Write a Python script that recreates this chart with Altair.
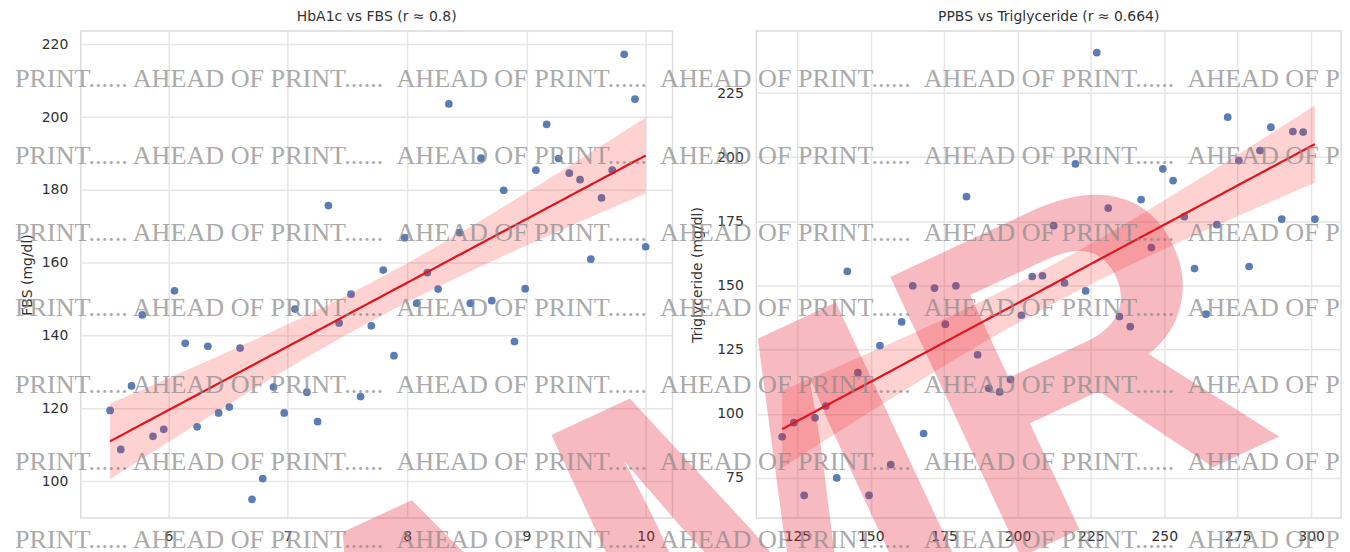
import altair as alt
import numpy as np
import pandas as pd

# ---- data ----
hba1c = [5.51, 5.60, 5.69, 5.78, 5.87, 5.96, 6.05, 6.14, 6.24, 6.33,
         6.42, 6.51, 6.60, 6.70, 6.79, 6.88, 6.97, 7.06, 7.16, 7.25,
         7.34, 7.43, 7.53, 7.61, 7.70, 7.80, 7.89, 7.98, 8.08, 8.17,
         8.26, 8.35, 8.44, 8.53, 8.62, 8.71, 8.81, 8.90, 8.99, 9.08,
         9.17, 9.27, 9.36, 9.45, 9.54, 9.63, 9.72, 9.82, 9.91, 10.00]
fbs = [119.5, 108.8, 126.2, 145.7, 112.4, 114.3, 152.3, 137.9, 115.0, 137.1,
       118.8, 120.4, 136.6, 95.1, 100.8, 125.9, 118.8, 147.3, 124.5, 116.4,
       175.7, 143.5, 151.4, 123.3, 142.7, 158.0, 134.5, 166.9, 148.9, 157.3,
       152.8, 203.6, 168.3, 148.9, 188.7, 149.6, 179.9, 138.4, 152.9, 185.4,
       198.0, 188.6, 184.6, 182.8, 161.0, 177.8, 185.4, 217.2, 204.9, 164.4]

ppbs = [119.8, 123.8, 127.3, 131.0, 134.7, 138.4, 142.0, 145.6, 149.4, 153.1,
        156.8, 160.5, 164.3, 168.0, 171.7, 175.4, 179.0, 182.6, 186.4, 190.2,
        193.9, 197.6, 201.3, 205.0, 208.5, 212.3, 216.0, 219.7, 223.2, 227.0,
        230.9, 234.7, 238.4, 242.1, 245.6, 249.5, 253.0, 256.8, 260.3, 264.2,
        267.9, 271.6, 275.4, 278.9, 282.6, 286.3, 290.0, 293.8, 297.3, 301.3]
trig = [91.0, 96.5, 68.2, 98.4, 103.0, 75.0, 155.5, 116.0, 68.2, 126.6,
        80.2, 135.8, 149.9, 92.3, 149.0, 134.9, 149.9, 184.6, 123.0, 109.9,
        108.5, 113.4, 138.4, 153.5, 153.8, 173.3, 151.0, 197.4, 147.9, 240.8,
        180.2, 137.9, 134.0, 183.5, 164.8, 195.5, 190.9, 176.8, 156.6, 138.8,
        173.7, 215.6, 198.7, 157.4, 202.6, 211.7, 175.9, 210.0, 209.8, 175.9]

left_xticks = [6, 7, 8, 9, 10]
left_yticks = [100, 120, 140, 160, 180, 200, 220]
right_xticks = [125, 150, 175, 200, 225, 250, 275, 300]
right_yticks = [75, 100, 125, 150, 175, 200, 225]

left_title = "HbA1c vs FBS (r ≈ 0.8)"
right_title = "PPBS vs Triglyceride (r ≈ 0.664)"
left_ytitle = "FBS (mg/dl)"
right_ytitle = "Triglyceride (mg/dl)"

wm_first = "PRINT......"
wm_rest = "\u00a0\u00a0".join(["AHEAD OF PRINT......"] * 4) + "\u00a0\u00a0AHEAD OF P"
big_mark = "AMR"

FONT = "DejaVu Sans"
TXT = "#333333"


def fit_band(x, y, n=120):
    x = np.asarray(x, float)
    y = np.asarray(y, float)
    b1, b0 = np.polyfit(x, y, 1)
    xs = np.linspace(x.min(), x.max(), n)
    yhat = b0 + b1 * xs
    resid = y - (b0 + b1 * x)
    s = np.sqrt((resid ** 2).sum() / (len(x) - 2))
    sxx = ((x - x.mean()) ** 2).sum()
    se = s * np.sqrt(1 / len(x) + (xs - x.mean()) ** 2 / sxx)
    t = 2.0106
    return pd.DataFrame({"x": xs, "y": yhat, "lo": yhat - t * se, "hi": yhat + t * se})


def panel(x, y, xdom, ydom, xticks, yticks, title, ytitle, tpad, w, h, extra=None):
    pts = pd.DataFrame({"x": x, "y": y})
    fit = fit_band(x, y)
    xs = alt.Scale(domain=xdom, nice=False, zero=False)
    ys = alt.Scale(domain=ydom, nice=False, zero=False)
    xax = alt.Axis(values=xticks, title=None, labelPadding=12, format="d")
    yax = alt.Axis(values=yticks, title=ytitle, labelPadding=13, titlePadding=tpad, format="d")
    X = alt.X("x:Q", scale=xs, axis=xax)
    scatter = alt.Chart(pts).mark_circle(size=60, color="#4c72b0", opacity=0.92).encode(
        x=X, y=alt.Y("y:Q", scale=ys, axis=yax))
    band = alt.Chart(fit).mark_area(color="#ff2020", opacity=0.2).encode(
        x=X, y=alt.Y("lo:Q", scale=ys, axis=yax), y2="hi:Q")
    line = alt.Chart(fit).mark_line(color="#e3121b", strokeWidth=2.2).encode(
        x=X, y=alt.Y("y:Q", scale=ys, axis=yax))
    layers = [scatter, band, line] + (extra or [])
    return alt.layer(*layers).properties(
        width=w, height=h,
        title=alt.TitleParams(title, fontSize=14, font=FONT, color=TXT, fontWeight="normal", offset=7))


one = pd.DataFrame({"a": [0]})

# overlay texts drawn inside the right panel (origin at its plot area's top-left)
OX, OY = 757, 29
overlay = [
    alt.Chart(one).mark_text(text=big_mark, font="Liberation Sans", fontWeight="bold",
                             fontSize=450, angle=335, align="center", baseline="alphabetic",
                             color="#e61e32", opacity=0.3).encode(
        x=alt.value(825 - OX), y=alt.value(648 - OY))
]
for base in [85, 162, 239, 315, 392, 469, 547]:
    for sx, s in [(14, wm_first), (132, wm_rest)]:
        overlay.append(
            alt.Chart(one).mark_text(text=s, font="Liberation Serif", fontSize=26.2,
                                     align="left", baseline="alphabetic",
                                     color="#8a8a8a", opacity=0.72).encode(
                x=alt.value(sx - OX), y=alt.value(base - OY)))

left = panel(hba1c, fbs, [5.265, 10.225], [90.0, 223.6], left_xticks, left_yticks,
             left_title, left_ytitle, 7, 593, 488)
right = panel(ppbs, trig, [111.0, 310.2], [59.4, 249.2], right_xticks, right_yticks,
              right_title, right_ytitle, 12, 586, 488, extra=overlay)

chart = alt.hconcat(left, right, spacing=84, bounds="flush").properties(
    padding={"left": 6, "top": 0, "right": 0, "bottom": 0}
).configure_view(stroke="#dcdcdc", strokeWidth=1.5).configure_axis(
    grid=True, gridColor="#e6e6e6", gridWidth=1.5, domain=False, ticks=False,
    labelFont=FONT, labelFontSize=14, labelColor=TXT,
    titleFont=FONT, titleFontSize=14, titleColor=TXT, titleFontWeight="normal"
)

chart.save("out.html", embed_options={"renderer": "svg", "actions": False})
